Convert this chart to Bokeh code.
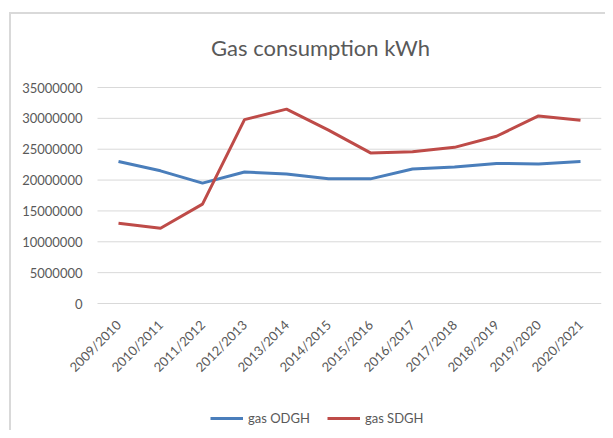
import math
from bokeh.plotting import figure
from bokeh.models import (Range1d, FixedTicker, NumeralTickFormatter, Legend,
                          LegendItem, Label)
from bokeh.embed import file_html
from bokeh.resources import INLINE

years = ["2009/2010", "2010/2011", "2011/2012", "2012/2013", "2013/2014",
         "2014/2015", "2015/2016", "2016/2017", "2017/2018", "2018/2019",
         "2019/2020", "2020/2021"]
gas_odgh = [23000000, 21500000, 19500000, 21300000, 21000000, 20200000,
            20200000, 21800000, 22100000, 22700000, 22600000, 23000000]
gas_sdgh = [13000000, 12200000, 16100000, 29800000, 31500000, 28100000,
            24400000, 24600000, 25300000, 27100000, 30400000, 29700000]
y_ticks = [0, 5000000, 10000000, 15000000, 20000000, 25000000, 30000000, 35000000]
title_text = "Gas consumption kWh"

FONT = "Lato"
GREY = "#595959"
GRID = "#d9d9d9"

# layout (pixels)
W, H = 605, 430
FRAME_LEFT_PX, FRAME_RIGHT_PX = 12, 601
PLOT_LEFT_PX = 97
AXIS_TOP_PX, AXIS_BOTTOM_PX = 87, 303

n = len(years)
xs = list(range(n))
x_lo, x_hi = -0.5, n - 0.5
px_per_x = (FRAME_RIGHT_PX - PLOT_LEFT_PX) / n
x_start = x_lo - (PLOT_LEFT_PX - FRAME_LEFT_PX) / px_per_x

y_max = y_ticks[-1]
per_px = y_max / (AXIS_BOTTOM_PX - AXIS_TOP_PX)
y_start = -(H - AXIS_BOTTOM_PX) * per_px
y_end = y_max + AXIS_TOP_PX * per_px

p = figure(width=W, height=H, x_range=Range1d(x_start, x_hi),
           y_range=Range1d(y_start, y_end),
           output_backend="svg", toolbar_location=None,
           min_border_left=FRAME_LEFT_PX, min_border_right=W - FRAME_RIGHT_PX,
           min_border_top=0, min_border_bottom=0, border_fill_color=None,
           background_fill_color=None)
p.styles = {"box-shadow": "inset 9px 12px 0 0 #ffffff, inset 11px 14px 0 0 #d9d9d9"}
p.outline_line_color = None
p.xgrid.grid_line_color = None
p.ygrid.grid_line_color = None

# horizontal gridlines across the plot area only
grid_ticks = y_ticks[1:]
p.segment(x0=[x_lo] * len(grid_ticks), x1=[x_hi] * len(grid_ticks),
          y0=grid_ticks, y1=grid_ticks, line_color=GRID, line_width=1)

p.yaxis.fixed_location = x_lo
p.yaxis.ticker = FixedTicker(ticks=y_ticks)
p.yaxis.formatter = NumeralTickFormatter(format="0")
p.yaxis.axis_line_color = None
p.yaxis.major_tick_line_color = None
p.yaxis.minor_tick_line_color = None
p.yaxis.major_tick_out = 0
p.yaxis.major_label_standoff = 15
p.yaxis.major_label_text_font = FONT
p.yaxis.major_label_text_font_size = "13px"
p.yaxis.major_label_text_color = GREY

p.xaxis.fixed_location = 0
p.xaxis.bounds = (x_lo, x_hi)
p.xaxis.ticker = FixedTicker(ticks=xs)
p.xaxis.major_label_overrides = {i: y for i, y in zip(xs, years)}
p.xaxis.axis_line_color = GRID
p.xaxis.major_tick_line_color = None
p.xaxis.minor_tick_line_color = None
p.xaxis.major_tick_out = 0
p.xaxis.major_label_orientation = math.pi / 4
p.xaxis.major_label_standoff = 19
p.xaxis.major_label_text_font = FONT
p.xaxis.major_label_text_font_size = "13px"
p.xaxis.major_label_text_color = GREY

r1 = p.line(xs, gas_odgh, line_color="#4A7EBB", line_width=3)
r2 = p.line(xs, gas_sdgh, line_color="#BE4B48", line_width=3)

legend = Legend(items=[LegendItem(label="gas ODGH", renderers=[r1]),
                       LegendItem(label="gas SDGH", renderers=[r2])],
                orientation="horizontal", location=(198, 2),
                padding=0, margin=0, spacing=17, glyph_width=33,
                label_standoff=5, label_text_font=FONT,
                label_text_font_size="13px", label_text_color=GREY,
                border_line_color=None, background_fill_alpha=0)
p.add_layout(legend, "center")

title = Label(x=308, y=383, x_units="screen", y_units="screen", text=title_text,
              text_align="center", text_baseline="alphabetic",
              text_font=FONT, text_font_size="22px", text_color=GREY)
p.add_layout(title)

open("out.html", "w").write(file_html(p, INLINE))
